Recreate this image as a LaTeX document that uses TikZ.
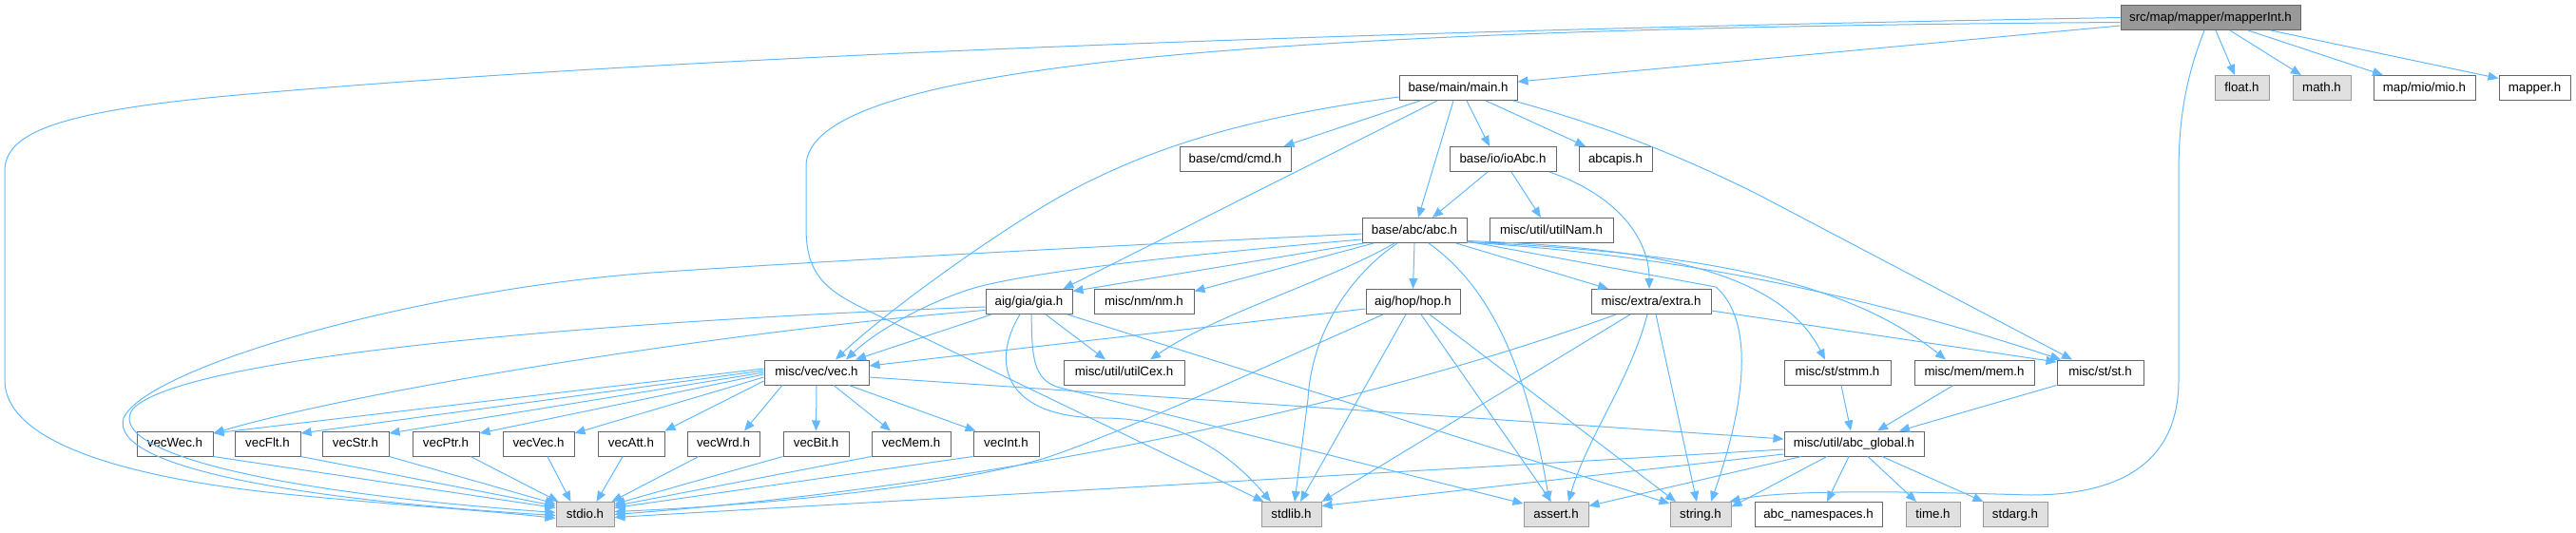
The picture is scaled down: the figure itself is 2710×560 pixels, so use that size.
\documentclass[tikz,border=0pt]{standalone}
\usepackage{fontspec}
\setmainfont{Liberation Sans}
\usetikzlibrary{arrows.meta}
\definecolor{edgec}{HTML}{63B8FF}
\definecolor{bordd}{HTML}{666666}
\definecolor{bordl}{HTML}{999999}
\definecolor{fillg}{HTML}{E0E0E0}
\definecolor{fillm}{HTML}{999999}
\newcommand{\nfont}{\fontsize{13.3}{16}\selectfont}
\tikzset{
  nd/.style={draw=bordd, fill=white, line width=1pt, minimum height=26pt, inner sep=0pt, font=\nfont, text height=9.6pt, text depth=2.6pt},
  sys/.style={nd, draw=bordl, fill=fillg},
  conn/.style={draw=edgec, line width=1pt, -{Triangle[length=11pt,width=9pt]}}
}
\begin{document}
\begin{tikzpicture}[x=1pt,y=-1pt]
\useasboundingbox (0,0) rectangle (2710,560);
% row 0
\node[nd, minimum width=189pt, fill=fillm] (mi) at (2325.5,18.5) {src/map/mapper/mapperInt.h};
% row 1
\node[nd, minimum width=124pt] (main) at (1534,92.5) {base/main/main.h};
\node[sys, minimum width=57pt] (float) at (2358.5,92.5) {float.h};
\node[sys, minimum width=61pt] (math) at (2442.5,92.5) {math.h};
\node[nd, minimum width=107pt] (mio) at (2550.5,92.5) {map/mio/mio.h};
\node[nd, minimum width=75pt] (mapperh) at (2666.5,92.5) {mapper.h};
% row 2
\node[nd, minimum width=117pt] (cmd) at (1299.5,167.5) {base/cmd/cmd.h};
\node[nd, minimum width=112pt] (ioabc) at (1581,167.5) {base/io/ioAbc.h};
\node[nd, minimum width=77pt] (abcapis) at (1699.5,167.5) {abcapis.h};
% row 3
\node[nd, minimum width=110pt] (abc) at (1488,242.5) {base/abc/abc.h};
\node[nd, minimum width=130pt] (utilnam) at (1632,242.5) {misc/util/utilNam.h};
% row 4
\node[nd, minimum width=91pt] (gia) at (1082.5,317.5) {aig/gia/gia.h};
\node[nd, minimum width=105pt] (nm) at (1203.5,317.5) {misc/nm/nm.h};
\node[nd, minimum width=99pt] (hop) at (1486.5,317.5) {aig/hop/hop.h};
\node[nd, minimum width=126pt] (extra) at (1737,317.5) {misc/extra/extra.h};
% row 5
\node[nd, minimum width=110pt] (vec) at (859,392) {misc/vec/vec.h};
\node[nd, minimum width=127pt] (utilcex) at (1182.5,392) {misc/util/utilCex.h};
\node[nd, minimum width=112pt] (stmm) at (1933,392) {misc/st/stmm.h};
\node[nd, minimum width=126pt] (mem) at (2077,392) {misc/mem/mem.h};
\node[nd, minimum width=91pt] (st) at (2209.5,392) {misc/st/st.h};
% row 6
\node[nd, minimum width=80pt] (vecWec) at (184,467) {vecWec.h};
\node[nd, minimum width=69pt] (vecFlt) at (281.5,467) {vecFlt.h};
\node[nd, minimum width=70pt] (vecStr) at (374,467) {vecStr.h};
\node[nd, minimum width=70pt] (vecPtr) at (469,467) {vecPtr.h};
\node[nd, minimum width=75pt] (vecVec) at (566.5,467) {vecVec.h};
\node[nd, minimum width=70pt] (vecAtt) at (664,467) {vecAtt.h};
\node[nd, minimum width=76pt] (vecWrd) at (761,467) {vecWrd.h};
\node[nd, minimum width=69pt] (vecBit) at (858.5,467) {vecBit.h};
\node[nd, minimum width=83pt] (vecMem) at (958.5,467) {vecMem.h};
\node[nd, minimum width=69pt] (vecInt) at (1058.5,467) {vecInt.h};
\node[nd, minimum width=147pt] (abcg) at (1950.5,467) {misc/util/abc\_global.h};
% row 7
\node[sys, minimum width=61pt] (stdio) at (615.5,541.5) {stdio.h};
\node[sys, minimum width=63pt] (stdlib) at (1358.5,541.5) {stdlib.h};
\node[sys, minimum width=68pt] (assert) at (1637,541.5) {assert.h};
\node[sys, minimum width=64pt] (string) at (1789,541.5) {string.h};
\node[nd, minimum width=134pt] (abcns) at (1913,541.5) {abc\_namespaces.h};
\node[sys, minimum width=57pt] (time) at (2033.5,541.5) {time.h};
\node[sys, minimum width=68pt] (stdarg) at (2120,541.5) {stdarg.h};

% mapperInt
\draw[conn] (mi.west) .. controls (1400,33) and (700,60) .. (250,100) .. controls (60,117) and (5,140) .. (5,180) -- (5,400) .. controls (5,470) and (150,505) .. (300,520) .. controls (420,532) and (520,538) .. ([yshift=-4pt]stdio.west);
\draw[conn] ([yshift=-5pt]mi.west) .. controls (1300,30) and (848,70) .. (848,175) -- (848,240) .. controls (848,285) and (865,303) .. (905,323) -- ([xshift=3pt]stdlib.north west);
\draw[conn] ([yshift=-8.5pt]mi.west) -- ([yshift=6.5pt]main.east);
\draw[conn] ([xshift=-6.5pt]mi.south) .. controls (2300,80) and (2292,125) .. (2292,180) -- (2292,400) .. controls (2292,480) and (2240,521) .. (2136,521) .. controls (2030,518) and (1880,514) .. ([xshift=-2pt]string.north east);
\draw[conn] ([xshift=5.5pt]mi.south) -- ([xshift=-7.5pt]float.north);
\draw[conn] ([xshift=20.5pt]mi.south) -- ([xshift=-21.5pt]math.north);
\draw[conn] ([xshift=39.5pt]mi.south) -- ([xshift=-43.5pt]mio.north);
\draw[conn] ([xshift=63.5pt]mi.south) -- ([yshift=10pt]mapperh.west);

% main
\draw[conn] ([yshift=-9.5pt]main.west) .. controls (1300,125) and (1200,160) .. (1115,207) .. controls (1040,250) and (930,330) .. ([xshift=20pt]vec.north);
\draw[conn] ([xshift=-40pt]main.south) -- ([xshift=51pt]cmd.north);
\draw[conn] ([xshift=-22pt]main.south) -- ([xshift=36pt]gia.north);
\draw[conn] ([xshift=-5pt]main.south) -- ([xshift=4pt]abc.north);
\draw[conn] ([xshift=9pt]main.south) -- ([xshift=-14pt]ioabc.north);
\draw[conn] ([xshift=29pt]main.south) -- ([xshift=-31.5pt]abcapis.north);
\draw[conn] ([xshift=58pt]main.south) .. controls (1680,130) and (1760,160) .. (1850,205) -- ([xshift=-29.5pt]st.north);

% ioAbc
\draw[conn] ([xshift=-16pt]ioabc.south) -- ([xshift=19pt]abc.north);
\draw[conn] ([xshift=9pt]ioabc.south) -- ([xshift=-11pt]utilnam.north);
\draw[conn] ([xshift=49pt]ioabc.south) .. controls (1700,205) and (1735,250) .. ([xshift=-2pt]extra.north);

% abc
\draw[conn] ([yshift=-3.5pt]abc.west) .. controls (1100,262) and (850,276) .. (700,286) .. controls (450,302) and (155,385) .. (130,440) .. controls (115,490) and (300,525) .. ([yshift=-1pt]stdio.west);
\draw[conn] ([yshift=-9.5pt]abc.west) .. controls (1250,268) and (1090,285) .. (1025,303) .. controls (970,320) and (920,350) .. ([xshift=31pt]vec.north);
\draw[conn] ([xshift=2pt]abc.south west) -- ([yshift=11pt]gia.east);
\draw[conn] ([xshift=-43pt]abc.south) -- ([yshift=11pt]nm.east);
\draw[conn] ([xshift=-21pt]abc.south) .. controls (1400,295) and (1280,330) .. ([xshift=27.5pt]utilcex.north);
\draw[conn] (abc.south) -- (hop.north);
\draw[conn] ([xshift=-18pt]abc.south) .. controls (1420,290) and (1380,350) .. (1376,420) -- ([xshift=3.5pt]stdlib.north);
\draw[conn] ([xshift=15pt]abc.south) .. controls (1565,300) and (1605,380) .. ([xshift=-7pt]assert.north);
\draw[conn] ([xshift=44pt]abc.south) -- ([xshift=-45pt]extra.north);
\draw[conn] ([yshift=-11.5pt]abc.east) -- (1805,302) .. controls (1838,330) and (1845,400) .. ([xshift=11pt]string.north);
\draw[conn] ([yshift=-11pt]abc.east) .. controls (1720,260) and (1870,280) .. ([xshift=-13pt]stmm.north);
\draw[conn] ([yshift=-12pt]abc.east) .. controls (1750,265) and (1930,285) .. ([xshift=-30pt]mem.north);
\draw[conn] ([yshift=-12.5pt]abc.east) .. controls (1700,265) and (1900,290) .. ([xshift=-41.5pt]st.north);

% gia
\draw[conn] ([yshift=-5.5pt]gia.west) .. controls (700,335) and (200,370) .. (140,430) .. controls (110,470) and (250,515) .. ([yshift=2pt]stdio.west);
\draw[conn] ([xshift=-39.5pt]gia.south) -- ([xshift=41pt]vec.north);
\draw[conn] ([yshift=-9pt]gia.west) .. controls (800,345) and (400,405) .. ([yshift=11pt]vecWec.east);
\draw[conn] ([xshift=17.5pt]gia.south) -- ([xshift=-19.5pt]utilcex.north);
\draw[conn] ([xshift=-9.5pt]gia.south) .. controls (1040,385) and (1060,440) .. (1160,440) .. controls (1250,440) and (1300,485) .. ([xshift=-21.5pt]stdlib.north);
\draw[conn] ([xshift=2.5pt]gia.south) .. controls (1086,372) and (1085,400) .. (1115,408) -- ([yshift=11.5pt]assert.west);
\draw[conn] ([xshift=40.5pt]gia.south) -- ([yshift=11.5pt]string.west);

% hop
\draw[conn] ([yshift=-7.5pt]hop.west) -- ([yshift=7pt]vec.east);
\draw[conn] ([xshift=-31.5pt]hop.south) .. controls (1300,400) and (1180,455) .. (1100,482) .. controls (1000,512) and (800,532) .. ([yshift=3pt]stdio.east);
\draw[conn] ([xshift=-7.5pt]hop.south) -- ([xshift=9.5pt]stdlib.north);
\draw[conn] ([xshift=8.5pt]hop.south) -- ([xshift=-5pt]assert.north);
\draw[conn] ([xshift=17.5pt]hop.south) -- ([xshift=-26pt]string.north);

% extra
\draw[conn] ([xshift=-37pt]extra.south) .. controls (1400,440) and (1000,515) .. (stdio.east);
\draw[conn] ([xshift=-22pt]extra.south) -- (stdlib.north east);
\draw[conn] ([xshift=-4pt]extra.south) .. controls (1715,400) and (1670,460) .. ([xshift=13pt]assert.north);
\draw[conn] ([xshift=5pt]extra.south) -- ([xshift=-4pt]string.north);
\draw[conn] ([yshift=-9.5pt]extra.east) -- ([yshift=11pt]st.west);

% st / mem / stmm
\draw[conn] ([xshift=4pt]stmm.south) -- ([xshift=-3.5pt]abcg.north);
\draw[conn] ([xshift=-22pt]mem.south) -- ([xshift=24.5pt]abcg.north);
\draw[conn] (st.south west) -- ([xshift=47.5pt]abcg.north);

% vec
\draw[conn] ([yshift=4pt]vec.west) -- ([yshift=11pt]vecWec.east);
\draw[conn] ([yshift=2pt]vec.west) -- ([yshift=11pt]vecFlt.east);
\draw[conn] (vec.west) -- ([yshift=11pt]vecStr.east);
\draw[conn] ([yshift=-2pt]vec.west) -- ([yshift=11pt]vecPtr.east);
\draw[conn] ([yshift=-5pt]vec.west) -- ([yshift=11pt]vecVec.east);
\draw[conn] ([yshift=-9pt]vec.west) -- (vecAtt.north east);
\draw[conn] ([xshift=-36pt]vec.south) -- ([xshift=22pt]vecWrd.north);
\draw[conn] (vec.south) -- (vecBit.north);
\draw[conn] ([xshift=18pt]vec.south) -- ([xshift=-21.5pt]vecMem.north);
\draw[conn] ([xshift=34pt]vec.south) -- ([xshift=-32pt]vecInt.north);
\draw[conn] ([yshift=-5pt]vec.east) -- ([yshift=5pt]abcg.west);

% vec* -> stdio
\draw[conn] (vecWec.south east) -- ([yshift=7pt]stdio.west);
\draw[conn] (vecFlt.south east) -- ([yshift=9pt]stdio.west);
\draw[conn] (vecStr.south east) -- ([yshift=11pt]stdio.west);
\draw[conn] ([xshift=26pt]vecPtr.south) -- ([xshift=3pt]stdio.north west);
\draw[conn] ([xshift=9.5pt]vecVec.south) -- ([xshift=-15pt]stdio.north);
\draw[conn] ([xshift=-9pt]vecAtt.south) -- ([xshift=12pt]stdio.north);
\draw[conn] ([xshift=-26pt]vecWrd.south) -- ([xshift=-3pt]stdio.north east);
\draw[conn] (vecBit.south west) -- ([yshift=11pt]stdio.east);
\draw[conn] (vecMem.south west) -- ([yshift=9pt]stdio.east);
\draw[conn] (vecInt.south west) -- ([yshift=7pt]stdio.east);

% abc_global
\draw[conn] ([yshift=-6pt]abcg.west) -- ([yshift=-3pt]stdio.east);
\draw[conn] ([yshift=-11pt]abcg.west) -- ([yshift=9pt]stdlib.east);
\draw[conn] ([xshift=-55.5pt]abcg.south) -- ([yshift=9pt]assert.east);
\draw[conn] ([xshift=-28.5pt]abcg.south) -- ([yshift=8pt]string.east);
\draw[conn] ([xshift=-5.5pt]abcg.south) -- ([xshift=9pt]abcns.north);
\draw[conn] ([xshift=14.5pt]abcg.south) -- ([xshift=-17.5pt]time.north);
\draw[conn] ([xshift=29.5pt]abcg.south) -- ([xshift=1pt]stdarg.north west);
\end{tikzpicture}
\end{document}
